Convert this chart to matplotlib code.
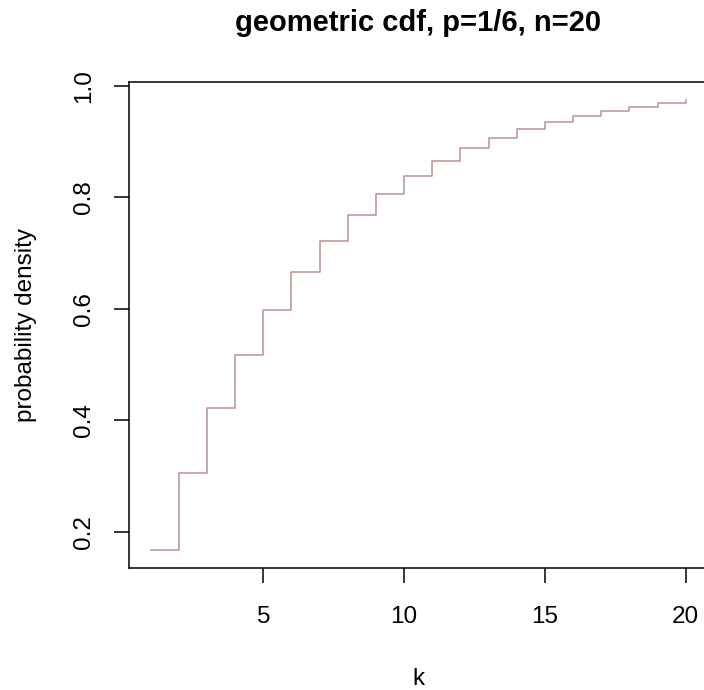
import matplotlib
matplotlib.use("Agg")
import matplotlib.pyplot as plt

# Cumulative probabilities of a geometric distribution, p = 1/6
k_values = list(range(1, 21))
cdf_values = [0.1667, 0.3056, 0.4213, 0.5177, 0.5981, 0.6651, 0.7209, 0.7674,
              0.8062, 0.8385, 0.8654, 0.8878, 0.9065, 0.9221, 0.9351, 0.9459,
              0.9549, 0.9624, 0.9687, 0.9739]
x_ticks = [5, 10, 15, 20]
y_ticks = [0.2, 0.4, 0.6, 0.8, 1.0]
y_tick_labels = ["0.2", "0.4", "0.6", "0.8", "1.0"]

plt.rcParams["font.family"] = ["Liberation Sans", "DejaVu Sans"]
W, H = 704, 690
fig = plt.figure(figsize=(W / 100, H / 100), dpi=100)

# plot region in pixels (R-style 4% padding on data range)
left_px, right_px, top_px, bottom_px = 129.3, 707.1, 82.2, 568.3
ax = fig.add_axes([left_px / W, 1 - bottom_px / H,
                   (right_px - left_px) / W, (bottom_px - top_px) / H])

ax.plot(k_values, cdf_values, drawstyle="steps-post", color="#BC8F8F", lw=1.1)

xr = max(k_values) - min(k_values)
yr = max(cdf_values) - min(cdf_values)
ax.set_xlim(min(k_values) - 0.04 * xr, max(k_values) + 0.04 * xr)
ax.set_ylim(min(cdf_values) - 0.04 * yr, max(cdf_values) + 0.04 * yr)

ax.set_xticks(x_ticks)
ax.set_xticklabels([str(t) for t in x_ticks])
ax.set_yticks(y_ticks)
ax.set_yticklabels(y_tick_labels, rotation=90, va="center")

for s in ax.spines.values():
    s.set_linewidth(1.1)
    s.set_color("black")
ax.tick_params(direction="out", length=10.8, width=1.1, labelsize=17.5,
               colors="black")
ax.tick_params(axis="x", pad=16.5)
ax.tick_params(axis="y", pad=14)

cx = (left_px + right_px) / 2 / W
fig.text(cx, 1 - 31 / H, "geometric cdf, p=1/6, n=20", ha="center",
         va="baseline", fontsize=21, fontweight="bold")
fig.text(cx, 1 - 685 / H, "k", ha="center", va="baseline", fontsize=17.5)
fig.text(32 / W, 1 - (top_px + bottom_px) / 2 / H, "probability density",
         rotation=90, rotation_mode="anchor", ha="center", va="baseline",
         fontsize=17.5)

fig.savefig("out.png", dpi=100, facecolor="white")
